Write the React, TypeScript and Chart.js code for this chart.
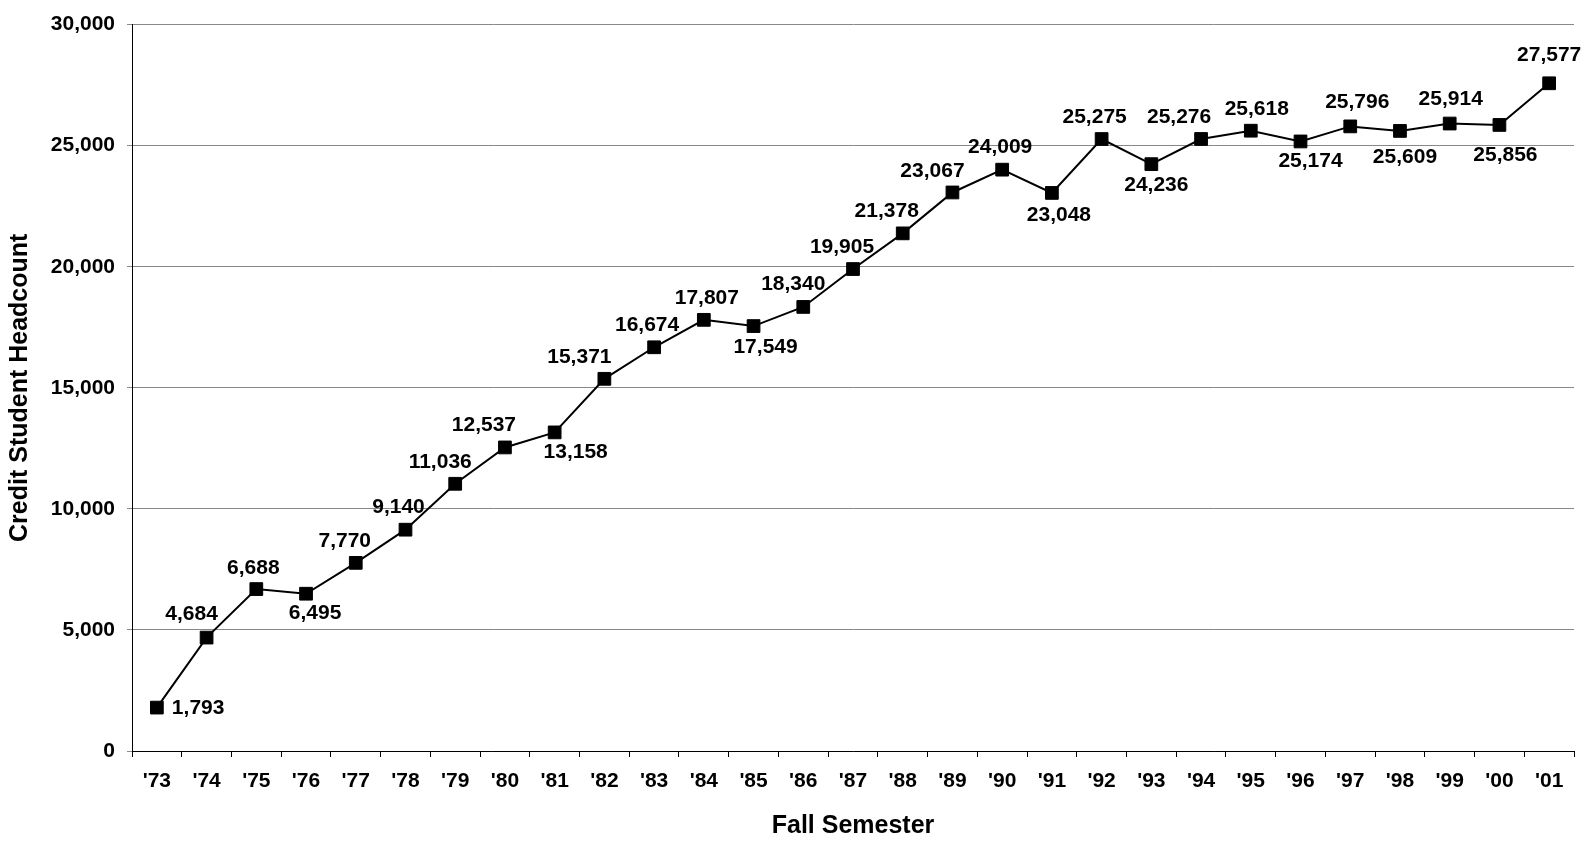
import React, { useEffect, useRef } from "react";
import { Chart, registerables } from "chart.js";

Chart.register(...registerables);

const semesters = [
  "'73", "'74", "'75", "'76", "'77", "'78", "'79", "'80", "'81", "'82",
  "'83", "'84", "'85", "'86", "'87", "'88", "'89", "'90", "'91", "'92",
  "'93", "'94", "'95", "'96", "'97", "'98", "'99", "'00", "'01",
];

const headcount = [
  1793, 4684, 6688, 6495, 7770, 9140, 11036, 12537, 13158, 15371,
  16674, 17807, 17549, 18340, 19905, 21378, 23067, 24009, 23048, 25275,
  24236, 25276, 25618, 25174, 25796, 25609, 25914, 25856, 27577,
];

const yTicks = [0, 5000, 10000, 15000, 20000, 25000, 30000];

// label placement relative to each point: [dx, dy, align]
const labelOffsets: Array<[number, number, CanvasTextAlign]> = [
  [15, 1, "left"],
  [-15, -23, "center"],
  [-3, -21, "center"],
  [9, 19, "center"],
  [-11, -22, "center"],
  [-7, -22, "center"],
  [-15, -22, "center"],
  [-21, -22, "center"],
  [21, 20, "center"],
  [-25, -22, "center"],
  [-7, -22, "center"],
  [3, -22, "center"],
  [12, 21, "center"],
  [-10, -23, "center"],
  [-11, -22, "center"],
  [-16, -22, "center"],
  [-20, -21, "center"],
  [-2, -22, "center"],
  [7, 22, "center"],
  [-7, -22, "center"],
  [5, 21, "center"],
  [-22, -22, "center"],
  [6, -21, "center"],
  [10, 20, "center"],
  [7, -24, "center"],
  [5, 26, "center"],
  [1, -24, "center"],
  [6, 30, "center"],
  [0, -28, "center"],
];

const FONT = "'Liberation Sans', Arial, sans-serif";

const pointLabels = {
  id: "pointLabels",
  afterDatasetsDraw(chart: any) {
    const meta = chart.getDatasetMeta(0);
    const ctx = chart.ctx;
    ctx.save();
    ctx.font = `bold 21px ${FONT}`;
    ctx.fillStyle = "#000";
    ctx.textBaseline = "middle";
    meta.data.forEach((pt: any, i: number) => {
      const [dx, dy, align] = labelOffsets[i];
      ctx.textAlign = align;
      ctx.fillText(headcount[i].toLocaleString("en-US"), pt.x + dx, pt.y + dy);
    });
    ctx.restore();
  },
};

export default function App() {
  const ref = useRef<HTMLCanvasElement>(null);

  useEffect(() => {
    if (!ref.current) return;
    const chart = new Chart(ref.current, {
      type: "line",
      data: {
        labels: semesters,
        datasets: [
          {
            data: headcount,
            borderColor: "#000",
            borderWidth: 2,
            backgroundColor: "#000",
            pointStyle: "rect",
            pointRadius: 9,
            pointBorderWidth: 1,
            pointBackgroundColor: "#000",
            pointBorderColor: "#000",
            tension: 0,
          },
        ],
      },
      options: {
        animation: false,
        responsive: true,
        maintainAspectRatio: false,
        layout: { padding: { top: 20, right: 19, left: 0, bottom: 0 } },
        plugins: {
          legend: { display: false },
          tooltip: { enabled: false },
        },
        scales: {
          x: {
            offset: true,
            grid: {
              offset: true,
              drawOnChartArea: false,
              drawTicks: true,
              tickLength: 6,
              color: "#000",
            },
            border: { color: "#000", width: 1 },
            ticks: {
              color: "#000",
              font: { family: FONT, size: 21, weight: "bold" },
              padding: 12,
              maxRotation: 0,
              autoSkip: false,
            },
            title: {
              display: true,
              text: "Fall Semester",
              color: "#000",
              font: { family: FONT, size: 25, weight: "bold" },
              padding: { top: 0, bottom: 1 },
            },
            afterFit(scale: any) {
              scale.height = 91;
            },
          },
          y: {
            min: 0,
            max: 30000,
            afterBuildTicks(scale: any) {
              scale.ticks = yTicks.map((v) => ({ value: v }));
            },
            grid: {
              color: "#888",
              lineWidth: 1,
              tickLength: 5,
            },
            border: { color: "#000", width: 1 },
            ticks: {
              color: "#000",
              font: { family: FONT, size: 21, weight: "bold" },
              padding: 12,
              callback: (v: any) => Number(v).toLocaleString("en-US"),
            },
            title: {
              display: true,
              text: "Credit Student Headcount",
              color: "#000",
              font: { family: FONT, size: 25, weight: "bold" },
              padding: { top: 5, bottom: 0 },
            },
            afterFit(scale: any) {
              scale.width = 132;
            },
          },
        },
      },
      plugins: [pointLabels],
    });
    return () => chart.destroy();
  }, []);

  return (
    <div style={{ position: "fixed", left: 0, top: 0, width: "1593px", height: "842px", background: "#fff" }}>
      <canvas ref={ref} />
    </div>
  );
}
